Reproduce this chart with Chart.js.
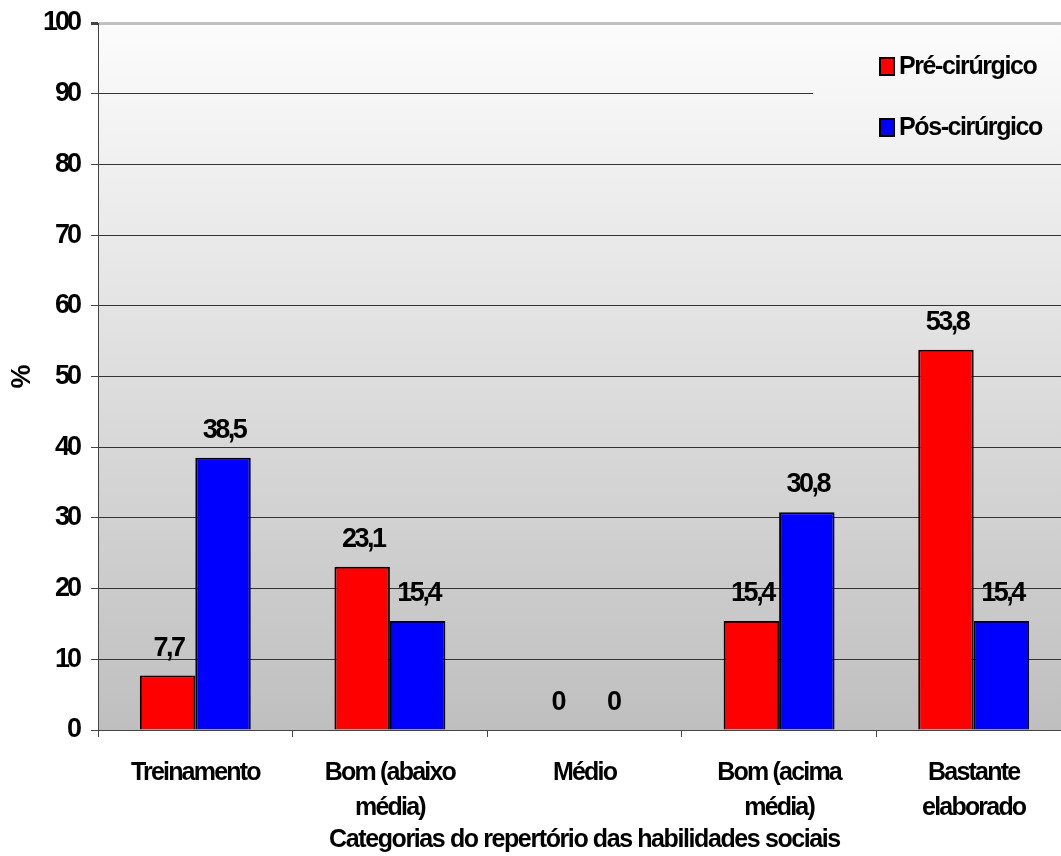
<!DOCTYPE html>
<html lang="pt">
<head>
<meta charset="utf-8">
<script src="https://cdn.jsdelivr.net/npm/chart.js@4/dist/chart.umd.min.js"></script>
<style>
  html, body { margin: 0; padding: 0; background: #ffffff; overflow: hidden; }
  #wrap { width: 1072px; height: 856px; }
</style>
</head>
<body>
<div id="wrap"><canvas id="chart" width="1072" height="856"></canvas></div>
<script>
// Categorias do repertório das habilidades sociais
const categories = [
  'Treinamento',
  ['Bom (abaixo', 'média)'],
  'Médio',
  ['Bom (acima', 'média)'],
  ['Bastante', 'elaborado']
];
const preCirurgico = [7.7, 23.1, 0, 15.4, 53.8];
const posCirurgico = [38.5, 15.4, 0, 30.8, 15.4];
const seriesNames = ['Pré-cirúrgico', 'Pós-cirúrgico'];
const yTicks = [0, 10, 20, 30, 40, 50, 60, 70, 80, 90, 100];

const FONT = "'Liberation Sans', Arial, sans-serif";

// tight letter spacing for each piece of text
const spacing = {
  yTicks: '-3px',
  xTicks: '-1.8px',
  xTitle: '-1.4px',
  values: '-2.5px',
  legend: '-1.4px'
};

function plotGradient(ctx, area) {
  const g = ctx.createLinearGradient(0, area.top, 0, area.bottom);
  g.addColorStop(0, '#fcfcfc');
  g.addColorStop(1, '#bfbfbf');
  return g;
}

function withSpacing(ctx, ls, fn) {
  ctx.save();
  ctx.letterSpacing = ls;
  fn();
  ctx.restore();
}

// applies the letter spacing to the axis labels and titles
const tightAxisText = {
  id: 'tightAxisText',
  beforeDraw(chart) {
    const map = { x: [spacing.xTicks, spacing.xTitle], y: [spacing.yTicks, '0px'] };
    Object.keys(map).forEach(id => {
      const s = chart.scales[id];
      if (!s || s._tightWrapped) return;
      const drawLabels = s.drawLabels;
      const drawTitle = s.drawTitle;
      s.drawLabels = function (area) { withSpacing(this.ctx, map[id][0], () => drawLabels.call(this, area)); };
      s.drawTitle = function () { withSpacing(this.ctx, map[id][1], () => drawTitle.call(this)); };
      s._tightWrapped = true;
    });
  }
};

// gradient fill behind the plot area
const plotBackground = {
  id: 'plotBackground',
  beforeDraw(chart) {
    const { ctx, chartArea: a } = chart;
    ctx.save();
    ctx.fillStyle = plotGradient(ctx, a);
    ctx.fillRect(a.left, a.top, a.right - a.left, a.bottom - a.top);
    ctx.restore();
  }
};

// legend box sitting inside the plot, top right
const innerLegend = {
  id: 'innerLegend',
  beforeDatasetsDraw(chart) {
    const { ctx, chartArea: a } = chart;
    ctx.save();
    ctx.fillStyle = plotGradient(ctx, a);
    ctx.fillRect(813, a.top + 5, a.right - 813, 130);
    ctx.restore();
  },
  afterDatasetsDraw(chart) {
    const { ctx } = chart;
    ctx.save();
    ctx.letterSpacing = spacing.legend;
    chart.data.datasets.forEach((ds, i) => {
      const y = 57 + i * 61;
      ctx.fillStyle = ds.backgroundColor;
      ctx.fillRect(879, y, 16, 19);
      ctx.strokeStyle = '#000';
      ctx.lineWidth = 2;
      ctx.strokeRect(880, y + 1, 14, 17);
      ctx.fillStyle = '#000';
      ctx.font = "bold 25px " + FONT;
      ctx.textAlign = 'left';
      ctx.textBaseline = 'middle';
      ctx.fillText(ds.label, 899, y + 10);
    });
    ctx.restore();
  }
};

// value written above each bar
const valueLabels = {
  id: 'valueLabels',
  afterDatasetsDraw(chart) {
    const { ctx } = chart;
    ctx.save();
    ctx.letterSpacing = spacing.values;
    ctx.fillStyle = '#000';
    ctx.font = "bold 27px " + FONT;
    ctx.textAlign = 'center';
    ctx.textBaseline = 'alphabetic';
    chart.data.datasets.forEach((ds, i) => {
      chart.getDatasetMeta(i).data.forEach((bar, j) => {
        const txt = String(ds.data[j]).replace('.', ',');
        ctx.fillText(txt, bar.x + 1, bar.y - 20);
      });
    });
    ctx.restore();
  }
};

new Chart(document.getElementById('chart'), {
  type: 'bar',
  data: {
    labels: categories,
    datasets: [
      { label: seriesNames[0], data: preCirurgico, backgroundColor: '#ff0000', borderColor: '#000000', borderWidth: 2 },
      { label: seriesNames[1], data: posCirurgico, backgroundColor: '#0000ff', borderColor: '#000000', borderWidth: 2 }
    ]
  },
  options: {
    responsive: false,
    animation: false,
    devicePixelRatio: 1,
    categoryPercentage: 0.57,
    barPercentage: 1.0,
    layout: { padding: { top: 23, left: 0, right: 1, bottom: 0 } },
    plugins: { legend: { display: false }, tooltip: { enabled: false } },
    scales: {
      x: {
        afterFit(scale) { scale.height = 126; scale.paddingLeft = 0; scale.paddingRight = 0; },
        grid: { offset: true, drawOnChartArea: false, drawTicks: true, tickLength: 7, tickColor: '#444', tickWidth: 1 },
        border: { display: true, color: '#444', width: 1 },
        ticks: {
          color: '#000', padding: 19,
          font: { family: FONT, size: 25, weight: 'bold', lineHeight: 1.4 },
          maxRotation: 0, autoSkip: false
        },
        title: {
          display: true, text: 'Categorias do repertório das habilidades sociais', color: '#000',
          font: { family: FONT, size: 25, weight: 'bold' }, padding: { top: 0, bottom: 1 }
        }
      },
      y: {
        min: 0, max: 100,
        afterFit(scale) { scale.width = 98; scale.paddingTop = 0; scale.paddingBottom = 0; },
        afterBuildTicks(scale) { scale.ticks = yTicks.map(v => ({ value: v })); },
        grid: {
          color: ctx => ctx.tick && ctx.tick.value === 100 ? '#c0c0c0' : '#333',
          lineWidth: ctx => ctx.tick && ctx.tick.value === 100 ? 3 : 1,
          tickColor: '#444', tickLength: 7, drawTicks: true
        },
        border: { display: true, color: '#444', width: 1 },
        ticks: { color: '#000', padding: 12, font: { family: FONT, size: 27, weight: 'bold' } },
        title: {
          display: true, text: '%', color: '#000',
          font: { family: FONT, size: 27, weight: 'bold' }, padding: { top: 6, bottom: 0 }
        }
      }
    }
  },
  plugins: [tightAxisText, plotBackground, innerLegend, valueLabels]
});
</script>
</body>
</html>
